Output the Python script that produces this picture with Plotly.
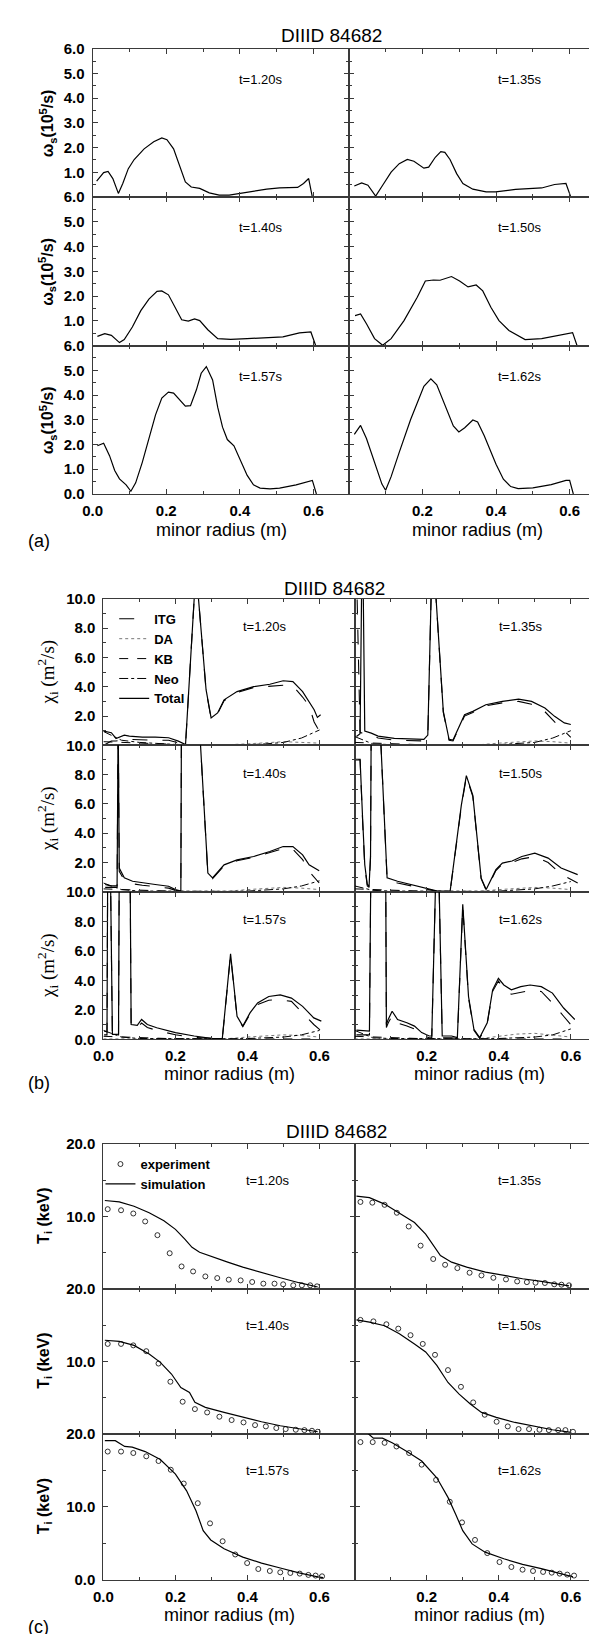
import plotly.graph_objects as go

W, H = 597, 1634

# ---------------- data: panel (a) shear rate omega_s (10^5/s) vs minor radius (m)
TIMES = ["t=1.20s", "t=1.35s", "t=1.40s", "t=1.50s", "t=1.57s", "t=1.62s"]

A_R_120 = [0.011, 0.030, 0.042, 0.055, 0.070, 0.082, 0.097, 0.113, 0.140, 0.166, 0.188, 0.202, 0.220, 0.237,
           0.252, 0.268, 0.291, 0.317, 0.344, 0.371, 0.402, 0.437, 0.473, 0.508, 0.557, 0.573, 0.587, 0.597]
A_W_120 = [0.65, 0.99, 1.04, 0.75, 0.15, 0.55, 1.15, 1.52, 1.95, 2.24, 2.39, 2.32, 1.95, 1.21,
           0.61, 0.41, 0.35, 0.17, 0.08, 0.08, 0.15, 0.25, 0.32, 0.37, 0.39, 0.55, 0.75, 0.0]
A_R_135 = [0.015, 0.035, 0.052, 0.073, 0.092, 0.115, 0.137, 0.159, 0.177, 0.204, 0.217, 0.235, 0.250, 0.261,
           0.275, 0.293, 0.310, 0.337, 0.373, 0.399, 0.453, 0.524, 0.559, 0.590, 0.603]
A_W_135 = [0.45, 0.57, 0.48, 0.04, 0.48, 1.01, 1.35, 1.52, 1.45, 1.17, 1.21, 1.61, 1.84, 1.81,
           1.52, 0.95, 0.55, 0.32, 0.21, 0.21, 0.31, 0.37, 0.51, 0.55, 0.01]
A_R_140 = [0.013, 0.033, 0.051, 0.073, 0.086, 0.108, 0.131, 0.153, 0.175, 0.188, 0.206, 0.224, 0.242, 0.260,
           0.277, 0.291, 0.313, 0.340, 0.375, 0.420, 0.473, 0.517, 0.562, 0.593, 0.606]
A_W_140 = [0.37, 0.48, 0.41, 0.12, 0.24, 0.75, 1.41, 1.88, 2.19, 2.21, 2.05, 1.55, 1.04, 0.99,
           1.08, 1.01, 0.64, 0.28, 0.25, 0.28, 0.32, 0.35, 0.51, 0.55, 0.0]
A_R_150 = [0.017, 0.032, 0.048, 0.070, 0.092, 0.115, 0.150, 0.186, 0.208, 0.230, 0.248, 0.279, 0.301, 0.324,
           0.346, 0.364, 0.386, 0.408, 0.435, 0.479, 0.524, 0.568, 0.608, 0.620]
A_W_150 = [1.21, 1.28, 0.88, 0.28, 0.01, 0.28, 1.01, 1.95, 2.61, 2.65, 2.64, 2.79, 2.61, 2.37,
           2.45, 2.21, 1.55, 1.01, 0.61, 0.24, 0.28, 0.41, 0.52, 0.0]
A_R_157 = [0.013, 0.030, 0.046, 0.060, 0.073, 0.091, 0.104, 0.117, 0.135, 0.153, 0.171, 0.188, 0.206, 0.220,
           0.237, 0.252, 0.266, 0.282, 0.295, 0.309, 0.326, 0.340, 0.353, 0.366, 0.384, 0.402, 0.420, 0.437,
           0.455, 0.482, 0.508, 0.553, 0.579, 0.597, 0.608]
A_W_157 = [1.95, 2.05, 1.55, 0.95, 0.61, 0.37, 0.11, 0.45, 1.28, 2.20, 3.20, 3.88, 4.12, 4.08,
           3.81, 3.55, 3.57, 4.21, 4.88, 5.15, 4.61, 3.50, 2.70, 2.20, 1.95, 1.35, 0.75, 0.37,
           0.24, 0.21, 0.24, 0.37, 0.48, 0.55, 0.0]
A_R_162 = [0.015, 0.032, 0.048, 0.061, 0.075, 0.090, 0.100, 0.115, 0.137, 0.168, 0.204, 0.223, 0.239, 0.266,
           0.284, 0.299, 0.315, 0.337, 0.350, 0.368, 0.386, 0.400, 0.420, 0.440, 0.460, 0.500, 0.550, 0.590,
           0.600, 0.610]
A_W_162 = [2.41, 2.77, 2.24, 1.68, 1.00, 0.40, 0.15, 0.70, 1.68, 3.01, 4.35, 4.65, 4.41, 3.41,
           2.75, 2.51, 2.68, 2.99, 2.91, 2.35, 1.68, 1.20, 0.60, 0.30, 0.22, 0.25, 0.38, 0.55,
           0.55, 0.0]

# ---------------- data: panel (b) chi_i (m^2/s)
B_R_120 = [0.001, 0.022, 0.035, 0.058, 0.072, 0.108, 0.144, 0.181, 0.208, 0.222, 0.228, 0.252, 0.258, 0.264,
           0.285, 0.299, 0.317, 0.335, 0.371, 0.417, 0.462, 0.499, 0.526, 0.553, 0.571, 0.585, 0.594, 0.603]
B_TOT_120 = [0.97, 0.86, 0.47, 0.70, 0.63, 0.56, 0.56, 0.52, 0.29, 0.14, 0.05, 10.0, 11.0, 10.0,
             3.80, 1.87, 2.21, 3.11, 3.67, 4.01, 4.17, 4.41, 4.35, 3.67, 3.00, 2.43, 1.91, 2.09]
B_ITG_120 = [0.00, 0.30, 0.30, 0.40, 0.40, 0.35, 0.35, 0.35, 0.20, 0.10, 0.04, 10.0, 11.0, 10.0,
             3.75, 1.82, 2.15, 3.05, 3.60, 3.95, 4.05, 4.10, 4.05, 3.30, 2.70, 1.60, 1.20, 0.90]

B_R_135 = [0.005, 0.015, 0.019, 0.021, 0.024, 0.028, 0.046, 0.065, 0.110, 0.155, 0.192, 0.203, 0.212, 0.219,
           0.226, 0.246, 0.262, 0.273, 0.287, 0.305, 0.328, 0.364, 0.410, 0.455, 0.491, 0.528, 0.555, 0.582, 0.600]
B_TOT_135 = [0.60, 0.80, 10.0, 12.0, 10.0, 0.97, 0.83, 0.63, 0.47, 0.41, 0.41, 0.70, 10.0, 11.0,
             10.0, 2.32, 0.41, 0.36, 1.08, 2.09, 2.32, 2.77, 3.00, 3.15, 3.00, 2.55, 1.98, 1.53, 1.42]
B_ITG_135 = [12.0, 0.90, 0.85, 0.85, 0.85, 0.85, 0.70, 0.50, 0.35, 0.30, 0.30, 0.60, 10.0, 11.0,
             10.0, 2.25, 0.35, 0.30, 1.00, 2.00, 2.25, 2.70, 2.90, 3.00, 2.80, 2.30, 1.60, 1.00, 0.55]

B_R_140 = [0.005, 0.020, 0.038, 0.041, 0.044, 0.058, 0.081, 0.108, 0.144, 0.181, 0.200, 0.215, 0.217,
           0.265, 0.290, 0.303, 0.335, 0.371, 0.417, 0.462, 0.499, 0.526, 0.553, 0.571, 0.599]
B_TOT_140 = [0.50, 0.40, 0.40, 12.0, 1.62, 0.95, 0.72, 0.61, 0.50, 0.38, 0.15, 0.05, 14.0,
             12.0, 1.28, 0.95, 1.84, 2.18, 2.41, 2.75, 3.09, 3.09, 2.52, 1.84, 1.44]
B_ITG_140 = [0.30, 0.30, 0.30, 12.0, 1.40, 0.80, 0.55, 0.45, 0.35, 0.25, 0.10, 0.03, 14.0,
             12.0, 1.20, 0.90, 1.78, 2.12, 2.35, 2.68, 2.95, 2.90, 2.20, 1.40, 0.60]

B_R_150 = [0.002, 0.015, 0.022, 0.028, 0.035, 0.040, 0.044, 0.046, 0.072, 0.090, 0.119, 0.155, 0.200, 0.230,
           0.265, 0.273, 0.296, 0.310, 0.328, 0.351, 0.365, 0.392, 0.410, 0.437, 0.464, 0.500, 0.537, 0.573, 0.619]
B_TOT_150 = [9.05, 9.05, 5.00, 1.85, 0.50, 0.40, 2.50, 12.0, 10.5, 0.95, 0.72, 0.50, 0.20, 0.05,
             0.05, 1.62, 5.90, 7.93, 6.58, 0.95, 0.15, 1.51, 1.96, 2.10, 2.41, 2.64, 2.30, 1.62, 1.17]
B_ITG_150 = [9.00, 9.00, 4.80, 1.70, 0.40, 0.30, 2.30, 12.0, 10.5, 0.85, 0.60, 0.40, 0.15, 0.03,
             0.03, 1.55, 5.80, 7.85, 6.50, 0.90, 0.10, 1.45, 1.90, 2.00, 2.25, 2.40, 2.00, 1.20, 0.60]

B_R_157 = [0.002, 0.010, 0.012, 0.014, 0.020, 0.025, 0.038, 0.042, 0.044, 0.074, 0.077, 0.094, 0.106, 0.122,
           0.148, 0.200, 0.252, 0.304, 0.330, 0.353, 0.371, 0.387, 0.407, 0.428, 0.459, 0.491, 0.522, 0.553,
           0.584, 0.605]
B_TOT_157 = [0.56, 0.50, 12.0, 12.0, 10.5, 0.33, 0.33, 0.35, 12.0, 12.0, 1.00, 0.95, 1.34, 1.00,
             0.78, 0.45, 0.22, 0.04, 0.04, 5.80, 1.56, 0.89, 1.79, 2.46, 2.90, 3.01, 2.79, 2.23,
             1.45, 1.23]
B_ITG_157 = [0.30, 0.30, 12.0, 12.0, 10.5, 0.10, 0.10, 0.10, 12.0, 12.0, 0.80, 0.75, 1.10, 0.80,
             0.60, 0.30, 0.12, 0.02, 0.02, 5.70, 1.50, 0.85, 1.70, 2.35, 2.65, 2.68, 2.57, 1.79,
             1.00, 0.56]

B_R_162 = [0.005, 0.041, 0.045, 0.047, 0.086, 0.088, 0.093, 0.104, 0.119, 0.145, 0.166, 0.186, 0.207, 0.214,
           0.226, 0.233, 0.243, 0.269, 0.285, 0.300, 0.316, 0.331, 0.347, 0.368, 0.383, 0.399, 0.414, 0.435,
           0.461, 0.487, 0.518, 0.549, 0.580, 0.611]
B_TOT_162 = [0.62, 0.56, 12.0, 12.0, 12.0, 1.00, 1.34, 1.90, 1.34, 1.12, 0.89, 0.45, 0.22, 0.22,
             12.0, 12.0, 0.22, 0.22, 0.11, 9.15, 2.90, 0.67, 0.11, 1.12, 3.35, 4.13, 3.68, 3.35,
             3.57, 3.68, 3.57, 3.13, 2.12, 1.34]
B_ITG_162 = [0.30, 0.30, 12.0, 12.0, 12.0, 0.80, 1.10, 1.60, 1.10, 0.90, 0.70, 0.30, 0.10, 0.10,
             12.0, 12.0, 0.10, 0.10, 0.05, 9.00, 2.80, 0.60, 0.05, 1.05, 3.25, 3.95, 3.40, 3.05,
             3.20, 3.30, 3.24, 2.46, 1.56, 0.67]

B_R_COMP = [0.0, 0.05, 0.10, 0.15, 0.20, 0.25, 0.30, 0.35, 0.40, 0.45, 0.50, 0.55, 0.60]
B_NEO_120 = [0.95, 0.35, 0.20, 0.12, 0.06, 0.04, 0.03, 0.03, 0.05, 0.10, 0.20, 0.50, 1.05]
B_NEO_135 = [0.60, 0.10, 0.05, 0.04, 0.03, 0.03, 0.03, 0.03, 0.05, 0.10, 0.20, 0.50, 1.00]
B_NEO_140 = [0.60, 0.15, 0.05, 0.04, 0.03, 0.03, 0.03, 0.03, 0.05, 0.10, 0.20, 0.40, 0.75]
B_NEO_150 = [0.40, 0.10, 0.05, 0.04, 0.03, 0.03, 0.03, 0.03, 0.05, 0.10, 0.20, 0.40, 0.70]
B_NEO_157 = [0.60, 0.15, 0.05, 0.04, 0.03, 0.03, 0.03, 0.03, 0.05, 0.10, 0.15, 0.30, 0.60]
B_NEO_162 = [0.60, 0.10, 0.05, 0.04, 0.03, 0.03, 0.03, 0.03, 0.05, 0.10, 0.15, 0.30, 0.70]
B_DA_120 = [0.02, 0.02, 0.02, 0.02, 0.02, 0.02, 0.02, 0.05, 0.10, 0.20, 0.25, 0.20, 0.15]
B_DA_135 = [0.02, 0.02, 0.02, 0.02, 0.02, 0.02, 0.02, 0.05, 0.15, 0.25, 0.30, 0.25, 0.15]
B_DA_140 = [0.02, 0.02, 0.02, 0.02, 0.02, 0.02, 0.02, 0.05, 0.15, 0.25, 0.30, 0.25, 0.15]
B_DA_150 = [0.02, 0.02, 0.02, 0.02, 0.02, 0.02, 0.02, 0.05, 0.15, 0.25, 0.30, 0.25, 0.15]
B_DA_157 = [0.02, 0.02, 0.02, 0.02, 0.02, 0.02, 0.02, 0.05, 0.15, 0.25, 0.30, 0.25, 0.15]
B_DA_162 = [0.02, 0.02, 0.02, 0.02, 0.02, 0.02, 0.02, 0.05, 0.20, 0.35, 0.40, 0.30, 0.15]
B_KB_120 = [0.25, 0.20, 0.15, 0.10, 0.05, 0.02, 0.02, 0.02, 0.02, 0.02, 0.02, 0.02, 0.02]
B_KB_135 = [0.20, 0.15, 0.10, 0.06, 0.03, 0.02, 0.02, 0.02, 0.02, 0.02, 0.02, 0.02, 0.02]
B_KB_140 = [0.20, 0.15, 0.10, 0.06, 0.03, 0.02, 0.02, 0.02, 0.02, 0.02, 0.02, 0.02, 0.02]
B_KB_150 = [0.20, 0.15, 0.10, 0.06, 0.03, 0.02, 0.02, 0.02, 0.02, 0.02, 0.02, 0.02, 0.02]
B_KB_157 = [0.20, 0.15, 0.10, 0.06, 0.03, 0.02, 0.02, 0.02, 0.02, 0.02, 0.02, 0.02, 0.02]
B_KB_162 = [0.20, 0.15, 0.10, 0.06, 0.03, 0.02, 0.02, 0.02, 0.02, 0.02, 0.02, 0.02, 0.02]

# ---------------- data: panel (c) T_i (keV)
C_RS_120 = [0.004, 0.044, 0.085, 0.127, 0.168, 0.200, 0.226, 0.246, 0.267, 0.304, 0.345, 0.387, 0.439, 0.491, 0.543, 0.595]
C_TS_120 = [12.2, 12.0, 11.4, 10.5, 9.4, 8.2, 6.86, 5.72, 5.03, 4.35, 3.66, 2.97, 2.29, 1.51, 0.82, 0.23]
C_RE_120 = [0.012, 0.049, 0.083, 0.116, 0.150, 0.184, 0.217, 0.249, 0.283, 0.316, 0.348, 0.381, 0.413, 0.444, 0.475, 0.499, 0.527, 0.551, 0.574, 0.593]
C_TE_120 = [11.0, 10.85, 10.4, 9.3, 7.4, 4.9, 3.07, 2.38, 1.69, 1.46, 1.24, 1.14, 0.92, 0.69, 0.69, 0.60, 0.46, 0.46, 0.46, 0.32]

C_RS_135 = [0.005, 0.041, 0.083, 0.124, 0.166, 0.197, 0.218, 0.238, 0.269, 0.311, 0.363, 0.414, 0.466, 0.518, 0.559, 0.595]
C_TS_135 = [12.8, 12.6, 11.7, 10.5, 9.15, 7.55, 5.95, 4.58, 3.66, 2.97, 2.29, 1.83, 1.37, 1.0, 0.69, 0.37]
C_RE_135 = [0.016, 0.049, 0.083, 0.117, 0.150, 0.183, 0.218, 0.251, 0.285, 0.319, 0.352, 0.385, 0.420, 0.451, 0.478, 0.502, 0.528, 0.554, 0.574, 0.595]
C_TE_135 = [12.0, 11.9, 11.6, 10.5, 8.6, 5.95, 4.1, 3.3, 2.84, 2.2, 1.83, 1.5, 1.28, 1.0, 0.9, 0.82, 0.78, 0.6, 0.55, 0.46]

C_RS_140 = [0.004, 0.044, 0.085, 0.127, 0.158, 0.189, 0.215, 0.239, 0.254, 0.283, 0.335, 0.387, 0.439, 0.491, 0.543, 0.595]
C_TS_140 = [12.9, 12.75, 12.2, 11.0, 9.86, 8.26, 6.4, 5.73, 4.36, 3.67, 2.98, 2.29, 1.7, 1.15, 0.69, 0.32]
C_RE_140 = [0.012, 0.049, 0.083, 0.119, 0.153, 0.186, 0.220, 0.254, 0.288, 0.322, 0.356, 0.389, 0.421, 0.451, 0.480, 0.506, 0.534, 0.558, 0.579, 0.595]
C_TE_140 = [12.4, 12.4, 12.2, 11.4, 9.7, 7.2, 4.45, 3.44, 2.98, 2.39, 1.93, 1.61, 1.24, 1.06, 0.83, 0.69, 0.6, 0.55, 0.46, 0.32]

C_RS_150 = [0.005, 0.041, 0.083, 0.124, 0.166, 0.197, 0.228, 0.259, 0.290, 0.321, 0.352, 0.393, 0.445, 0.497, 0.549, 0.601]
C_TS_150 = [15.7, 15.4, 14.9, 13.8, 12.4, 11.3, 9.45, 7.1, 5.5, 4.13, 2.98, 2.29, 1.6, 1.06, 0.6, 0.23]
C_RE_150 = [0.016, 0.052, 0.088, 0.121, 0.155, 0.189, 0.223, 0.259, 0.295, 0.329, 0.361, 0.394, 0.425, 0.455, 0.484, 0.513, 0.539, 0.565, 0.585, 0.606]
C_TE_150 = [15.7, 15.5, 15.1, 14.5, 13.6, 12.4, 10.9, 8.8, 6.5, 4.36, 2.66, 1.7, 1.06, 0.69, 0.69, 0.6, 0.55, 0.55, 0.55, 0.32]

C_RS_157 = [0.004, 0.033, 0.059, 0.080, 0.116, 0.158, 0.200, 0.231, 0.257, 0.277, 0.298, 0.335, 0.387, 0.439, 0.491, 0.543, 0.595, 0.610]
C_TS_157 = [19.1, 19.1, 18.3, 18.2, 17.6, 16.5, 14.5, 12.2, 9.45, 6.73, 5.45, 4.23, 3.09, 2.27, 1.59, 0.91, 0.36, 0.27]
C_RE_157 = [0.012, 0.049, 0.083, 0.119, 0.153, 0.187, 0.223, 0.262, 0.296, 0.331, 0.366, 0.399, 0.430, 0.462, 0.491, 0.519, 0.545, 0.569, 0.589, 0.607]
C_TE_157 = [17.6, 17.6, 17.4, 16.95, 16.3, 15.1, 13.2, 10.5, 7.73, 5.27, 3.45, 2.27, 1.45, 1.18, 1.0, 0.91, 0.82, 0.64, 0.55, 0.45]

C_RS_162 = [0.020, 0.036, 0.052, 0.077, 0.104, 0.145, 0.186, 0.228, 0.259, 0.280, 0.300, 0.326, 0.362, 0.414, 0.466, 0.518, 0.569, 0.606]
C_TS_162 = [20.8, 20.1, 19.45, 19.45, 18.8, 17.6, 16.3, 14.0, 11.3, 9.0, 6.73, 4.9, 3.77, 2.86, 2.09, 1.5, 0.82, 0.36]
C_RE_162 = [0.016, 0.050, 0.083, 0.116, 0.151, 0.186, 0.226, 0.264, 0.298, 0.334, 0.368, 0.402, 0.435, 0.466, 0.495, 0.523, 0.547, 0.569, 0.590, 0.609]
C_TE_162 = [18.9, 18.9, 18.8, 18.3, 17.4, 15.8, 13.7, 10.7, 7.86, 5.45, 3.64, 2.41, 1.73, 1.36, 1.18, 1.05, 0.95, 0.82, 0.68, 0.55]

X_TICKS_LEFT = [0.0, 0.2, 0.4, 0.6]
X_TEXT_LEFT = ["0.0", "0.2", "0.4", "0.6"]
X_TICKS_RIGHT = [0.2, 0.4, 0.6]
X_TEXT_RIGHT = ["0.2", "0.4", "0.6"]

A_CURVES = [(A_R_120, A_W_120), (A_R_135, A_W_135), (A_R_140, A_W_140),
            (A_R_150, A_W_150), (A_R_157, A_W_157), (A_R_162, A_W_162)]
B_SETS = [
    (B_R_120, B_TOT_120, B_ITG_120, B_NEO_120, B_DA_120, B_KB_120),
    (B_R_135, B_TOT_135, B_ITG_135, B_NEO_135, B_DA_135, B_KB_135),
    (B_R_140, B_TOT_140, B_ITG_140, B_NEO_140, B_DA_140, B_KB_140),
    (B_R_150, B_TOT_150, B_ITG_150, B_NEO_150, B_DA_150, B_KB_150),
    (B_R_157, B_TOT_157, B_ITG_157, B_NEO_157, B_DA_157, B_KB_157),
    (B_R_162, B_TOT_162, B_ITG_162, B_NEO_162, B_DA_162, B_KB_162),
]
C_SETS = [
    (C_RS_120, C_TS_120, C_RE_120, C_TE_120), (C_RS_135, C_TS_135, C_RE_135, C_TE_135),
    (C_RS_140, C_TS_140, C_RE_140, C_TE_140), (C_RS_150, C_TS_150, C_RE_150, C_TE_150),
    (C_RS_157, C_TS_157, C_RE_157, C_TE_157), (C_RS_162, C_TS_162, C_RE_162, C_TE_162),
]

# ---------------- geometry / styling
FONT = "Liberation Sans, Arial, Helvetica, sans-serif"
SERIF = "Liberation Serif, Times New Roman, serif"
AXC = "#3a3a3a"


def px(x):
    return x / W


def py(y):
    return 1 - y / H


PANELS = [
    dict(left=76, mid=337, right=597, rows=[32, 182, 332, 482], pxm=375.0,
         ymax=6, major=1.0, minor=0.5, tdy=31, tx=(248, 511), title_y=19, title_x=319,
         ylab="<b>ω<sub>s</sub>(10<sup>5</sup>/s)</b>", ylab_font=dict(family=FONT, size=16, color="black"),
         ylab_x=30, xlab_y=518, tag="(a)", tag_y=530, xlab_x=(207, 468)),
    dict(left=87, mid=343, right=597, rows=[588, 736, 884, 1033], pxm=367.0,
         ymax=10, major=2.0, minor=1.0, tdy=28, tx=(252, 512), title_y=578, title_x=322,
         ylab="χ<sub>i</sub> (m<sup>2</sup>/s)", ylab_font=dict(family=SERIF, size=19, color="black"),
         ylab_x=30, xlab_y=1068, tag="(b)", tag_y=1077, xlab_x=(215, 470)),
    dict(left=87, mid=343, right=597, rows=[1139, 1285, 1432, 1579], pxm=367.0,
         ymax=20, major=10.0, minor=5.0, tdy=37, tx=(255, 511), title_y=1126, title_x=324,
         ylab="<b>T<sub>i</sub> (keV)</b>", ylab_font=dict(family=FONT, size=16, color="black"),
         ylab_x=27, xlab_y=1615, tag="(c)", tag_y=1627, xlab_x=(215, 470)),
]

fig = go.Figure()
layout_axes = {}
annotations = []
TICKFONT = dict(family=FONT, size=15, color="black", weight="bold")

for p, g in enumerate(PANELS):
    for r in range(3):
        for c in range(2):
            k = p * 6 + r * 2 + c
            idx = "" if k == 0 else str(k + 1)
            xa, ya = "x" + idx, "y" + idx
            x0 = g["left"] if c == 0 else g["mid"]
            x1 = g["mid"] if c == 0 else g["right"]
            top, bot = g["rows"][r], g["rows"][r + 1]
            xr = (x1 - x0) / g["pxm"]
            layout_axes["xaxis" + idx] = dict(
                domain=[px(x0), px(x1)], range=[0, xr], anchor=ya,
                showline=True, linecolor=AXC, linewidth=1, mirror="ticks",
                ticks="inside", ticklen=5, tickwidth=1, tickcolor=AXC,
                tickmode="array",
                tickvals=X_TICKS_LEFT if c == 0 else X_TICKS_RIGHT,
                ticktext=X_TEXT_LEFT if c == 0 else X_TEXT_RIGHT,
                showticklabels=(r == 2), tickfont=TICKFONT, ticklabelstandoff=3,
                minor=dict(ticks="inside", ticklen=3, tickmode="linear", tick0=0, dtick=0.1,
                           tickcolor=AXC, tickwidth=1),
                showgrid=False, zeroline=False, fixedrange=True)
            ymax = g["ymax"]
            vals, texts = [], []
            v = 0.0 if r == 2 else g["major"]
            while v <= ymax + 1e-9:
                vals.append(v)
                texts.append(f"{v:.1f}")
                v += g["major"]
            layout_axes["yaxis" + idx] = dict(
                domain=[py(bot), py(top)], range=[0, ymax], anchor=xa,
                showline=True, linecolor=AXC, linewidth=1, mirror="ticks",
                ticks="inside", ticklen=5, tickwidth=1, tickcolor=AXC,
                tickmode="array", tickvals=vals, ticktext=texts,
                showticklabels=(c == 0), tickfont=TICKFONT, ticklabelstandoff=4,
                minor=dict(ticks="inside", ticklen=3, tickmode="linear", tick0=0, dtick=g["minor"],
                           tickcolor=AXC, tickwidth=1),
                showgrid=False, zeroline=False, fixedrange=True)

            ti = r * 2 + c
            annotations.append(dict(x=px(g["tx"][c]), y=py(top + g["tdy"]), xref="paper", yref="paper",
                                    text=TIMES[ti], showarrow=False, xanchor="center", yanchor="middle",
                                    font=dict(family=FONT, size=13, color="black")))
            if c == 0:
                annotations.append(dict(x=px(g["ylab_x"]), y=py((top + bot) / 2), xref="paper", yref="paper",
                                        text=g["ylab"], textangle=-90, showarrow=False,
                                        xanchor="center", yanchor="middle", font=g["ylab_font"]))

            # ---- traces
            if p == 0:
                rr, ww = A_CURVES[ti]
                fig.add_trace(go.Scatter(x=rr, y=ww, xaxis=xa, yaxis=ya, mode="lines",
                                         line=dict(color="black", width=1.2), showlegend=False,
                                         hoverinfo="skip"))
            elif p == 1:
                rr, tot, itg, neo, da, kb = B_SETS[ti]
                first = (ti == 0)
                fig.add_trace(go.Scatter(x=rr, y=itg, xaxis=xa, yaxis=ya, mode="lines", name="ITG",
                                         line=dict(color="black", width=1.1, dash="longdash"),
                                         showlegend=first, legend="legend", hoverinfo="skip"))
                fig.add_trace(go.Scatter(x=B_R_COMP, y=da, xaxis=xa, yaxis=ya, mode="lines", name="DA",
                                         line=dict(color="#555555", width=0.8, dash="dot"),
                                         showlegend=first, legend="legend", hoverinfo="skip"))
                fig.add_trace(go.Scatter(x=B_R_COMP, y=kb, xaxis=xa, yaxis=ya, mode="lines", name="KB",
                                         line=dict(color="black", width=1.0, dash="dash"),
                                         showlegend=first, legend="legend", hoverinfo="skip"))
                fig.add_trace(go.Scatter(x=B_R_COMP, y=neo, xaxis=xa, yaxis=ya, mode="lines", name="Neo",
                                         line=dict(color="black", width=1.0, dash="dashdot"),
                                         showlegend=first, legend="legend", hoverinfo="skip"))
                fig.add_trace(go.Scatter(x=rr, y=tot, xaxis=xa, yaxis=ya, mode="lines", name="Total",
                                         line=dict(color="black", width=1.2),
                                         showlegend=first, legend="legend", hoverinfo="skip"))
            else:
                rs, ts, re_, te = C_SETS[ti]
                first = (ti == 0)
                fig.add_trace(go.Scatter(x=re_, y=te, xaxis=xa, yaxis=ya, mode="markers", name="experiment",
                                         marker=dict(symbol="circle-open", size=5, color="black",
                                                     line=dict(width=0.8, color="black")),
                                         showlegend=first, legend="legend2", hoverinfo="skip"))
                fig.add_trace(go.Scatter(x=rs, y=ts, xaxis=xa, yaxis=ya, mode="lines", name="simulation",
                                         line=dict(color="black", width=1.2),
                                         showlegend=first, legend="legend2", hoverinfo="skip"))

    # panel texts
    annotations.append(dict(x=px(g["title_x"]), y=py(g["title_y"]), xref="paper", yref="paper",
                            text="DIIID 84682", showarrow=False, xanchor="center", yanchor="middle",
                            font=dict(family=FONT, size=19, color="black")))
    for c in range(2):
        annotations.append(dict(x=px(g["xlab_x"][c]), y=py(g["xlab_y"]), xref="paper", yref="paper",
                                text="minor radius (m)", showarrow=False, xanchor="center", yanchor="middle",
                                font=dict(family=FONT, size=18, color="black")))
    annotations.append(dict(x=px(21), y=py(g["tag_y"]), xref="paper", yref="paper",
                            text=g["tag"], showarrow=False, xanchor="center", yanchor="middle",
                            font=dict(family=FONT, size=18, color="black")))

fig.update_layout(
    width=W, height=H,
    margin=dict(l=0, r=0, t=0, b=0),
    paper_bgcolor="white", plot_bgcolor="white",
    font=dict(family=FONT, color="black"),
    annotations=annotations,
    legend=dict(x=px(98), y=py(593), xanchor="left", yanchor="top", bgcolor="rgba(0,0,0,0)",
                font=dict(family=FONT, size=13, color="black", weight="bold"),
                itemwidth=30, tracegroupgap=0, borderwidth=0),
    legend2=dict(x=px(84), y=py(1144), xanchor="left", yanchor="top", bgcolor="rgba(0,0,0,0)",
                 font=dict(family=FONT, size=13, color="black", weight="bold"),
                 itemwidth=30, tracegroupgap=0, borderwidth=0),
    **layout_axes,
)

fig.write_html("out.html")
